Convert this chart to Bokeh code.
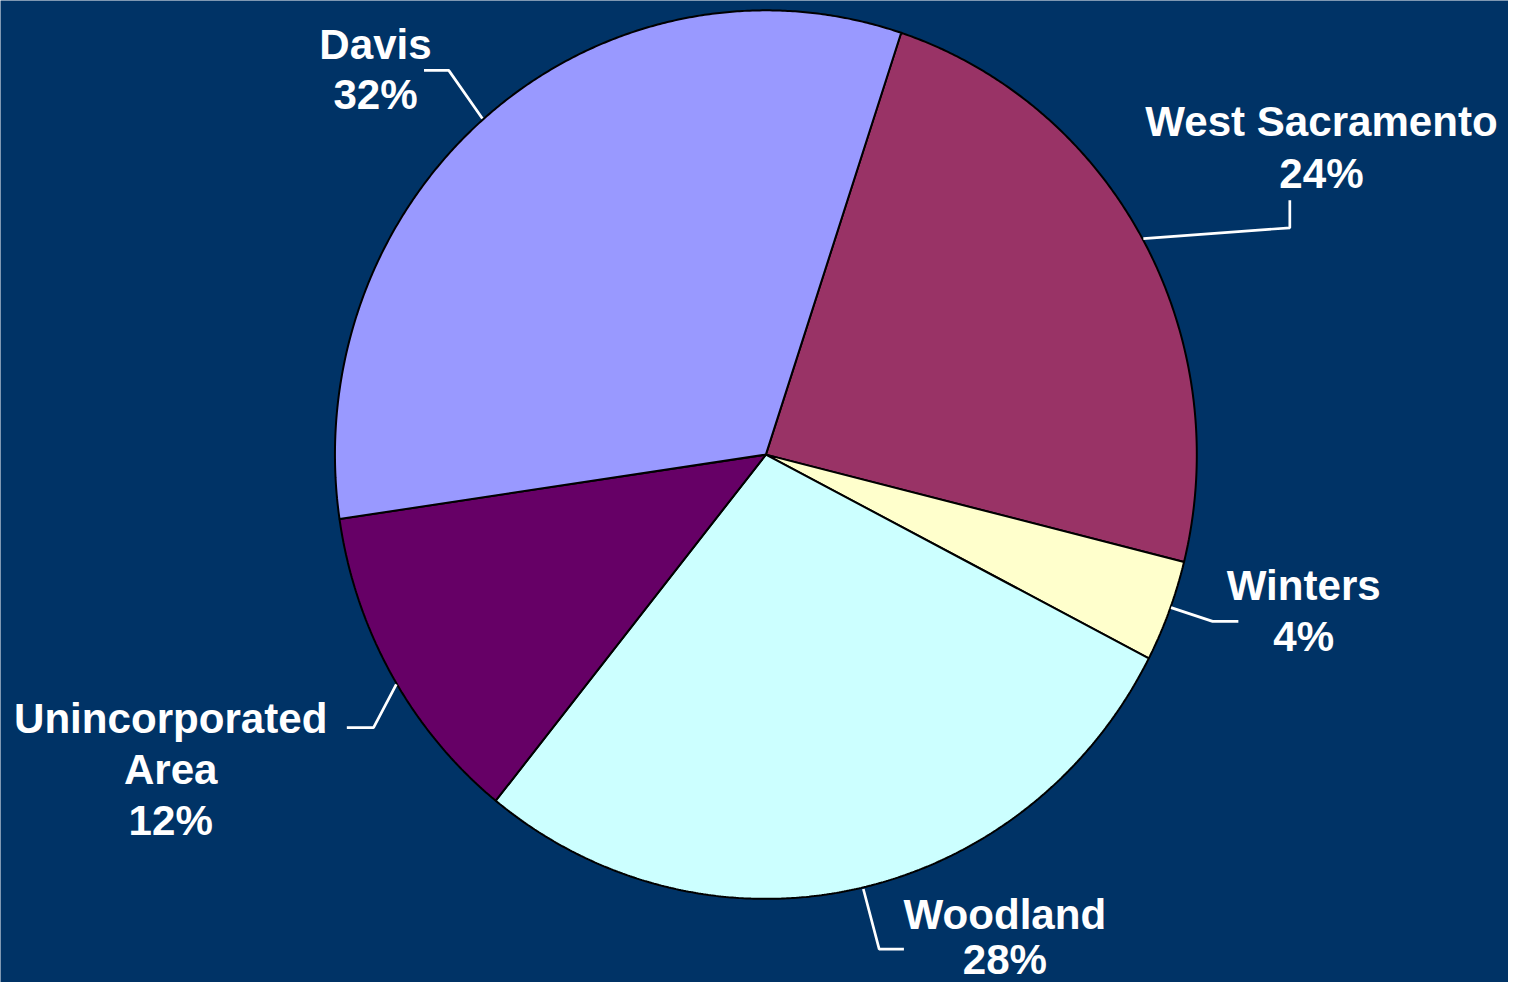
import numpy as np
from bokeh.plotting import figure
from bokeh.models import Range1d
from bokeh.core.properties import value
from bokeh.embed import file_html
from bokeh.resources import INLINE

# ---- data ----
names = ["West Sacramento", "Winters", "Woodland", "Unincorporated\nArea", "Davis"]
values = [23.8, 3.7, 28.2, 11.9, 32.4]
colors = ["#993366", "#FFFFCC", "#CCFFFF", "#660066", "#9999FF"]

# ---- layout (coordinates in reference-picture pixels) ----
W, H = 1508, 982
REF_W, REF_H = 1524, 998
scale = W / REF_W
cx, cy, rx, ry = 773.5, 461.5, 435.5, 451.5
start_deg = 18.3
text_shift = -12  # compensates the renderer's baseline placement
label_anchor = [(1335, 135), (1317, 607), (1015, 941), (172, 742), (379, 57)]
label_gap = [53, 51, 46, 51.5, 51]
leaders = [
    [(1155, 242), (1303, 231), (1303, 203)],
    [(1183, 617), (1225, 631), (1251, 631)],
    [(872, 903), (888, 964), (913, 964)],
    [(400, 695), (377, 739), (350, 739)],
    [(487, 120), (453, 71), (428, 71)],
]

p = figure(width=W, height=H, x_range=Range1d(0, REF_W), y_range=Range1d(REF_H, 0),
           output_backend="svg", toolbar_location=None, min_border=0)
p.background_fill_color = "#003366"
p.border_fill_color = "#003366"
p.outline_line_color = None
p.axis.visible = False
p.grid.visible = False

total = sum(values)
xs, ys = [], []
a0 = start_deg
for v in values:
    a1 = a0 + 360.0 * v / total
    t = np.radians(np.linspace(a0, a1, max(int((a1 - a0) * 3), 4)))
    px = np.concatenate([[cx], cx + rx * np.sin(t), [cx]])
    py = np.concatenate([[cy], cy - ry * np.cos(t), [cy]])
    xs.append(px.tolist())
    ys.append(py.tolist())
    a0 = a1

p.patches(xs, ys, fill_color=colors, line_color="black", line_width=2)

p.multi_line([[q[0] for q in L] for L in leaders], [[q[1] for q in L] for L in leaders],
             line_color="white", line_width=2.7)

tx, ty, tt = [], [], []
for name, v, (ax, ay), g in zip(names, values, label_anchor, label_gap):
    lines = name.split("\n") + ["%d%%" % round(v / total * 100)]
    for i, s in enumerate(lines):
        tx.append(ax)
        ty.append(ay + i * g + text_shift)
        tt.append(s)

p.text(tx, ty, text=tt, text_align="center", text_baseline="alphabetic",
       text_color="white", text_font=value("Liberation Sans"), text_font_style="bold",
       text_font_size="%.1fpx" % (42.5 * scale))

open("out.html", "w").write(file_html(p, INLINE))
